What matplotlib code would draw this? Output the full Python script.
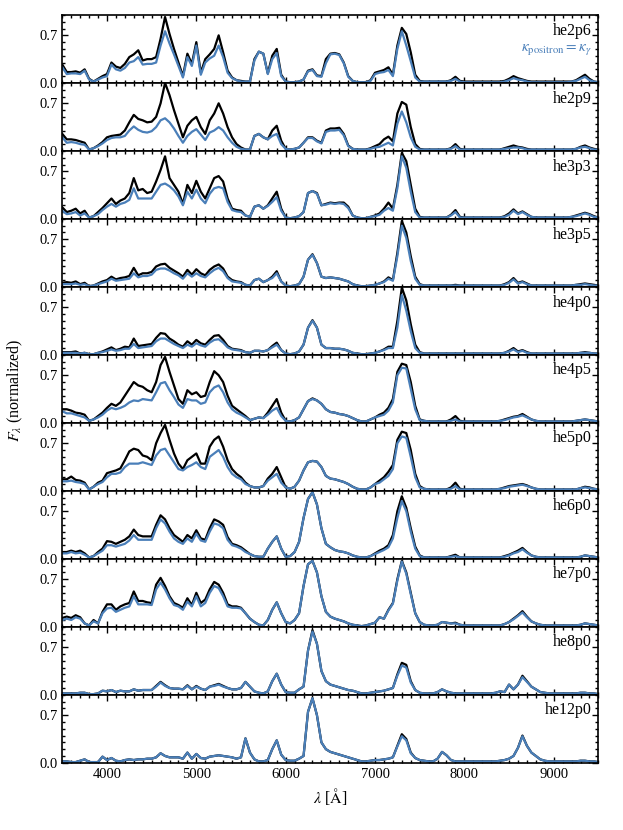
import numpy as np
import matplotlib.pyplot as plt
from matplotlib.ticker import MultipleLocator, FixedLocator

plt.rcParams['font.family'] = ['Liberation Serif', 'DejaVu Serif']
plt.rcParams['mathtext.fontset'] = 'stix'

# wavelength grid [Angstrom], 50 A steps
wave = np.arange(3500, 9501, 50)

models = ['he2p6', 'he2p9', 'he3p3', 'he3p5', 'he4p0', 'he4p5',
          'he5p0', 'he6p0', 'he7p0', 'he8p0', 'he12p0']

# black: default model, blue: kappa_positron = kappa_gamma
he2p6_black = [0.27, 0.16, 0.16, 0.17, 0.15, 0.2, 0.06, 0.02, 0.06, 0.1,
               0.13, 0.3, 0.24, 0.22, 0.28, 0.38, 0.42, 0.48, 0.33, 0.35,
               0.35, 0.38, 0.65, 0.97, 0.72, 0.5, 0.3, 0.1, 0.43, 0.28,
               0.6, 0.15, 0.35, 0.42, 0.5, 0.7, 0.45, 0.18, 0.08, 0.04,
               0.03, 0.02, 0.02, 0.35, 0.46, 0.43, 0.14, 0.4, 0.5, 0.12,
               0.02, 0.01, 0.01, 0.02, 0.05, 0.18, 0.2, 0.11, 0.1, 0.35,
               0.43, 0.44, 0.42, 0.3, 0.1, 0.03, 0.01, 0.01, 0.01, 0.04,
               0.15, 0.17, 0.19, 0.23, 0.12, 0.55, 0.81, 0.72, 0.45, 0.12,
               0.03, 0.02, 0.02, 0.02, 0.02, 0.02, 0.02, 0.04, 0.09, 0.03,
               0.02, 0.02, 0.02, 0.02, 0.02, 0.02, 0.02, 0.02, 0.02, 0.03,
               0.06, 0.1, 0.07, 0.05, 0.03, 0.02, 0.02, 0.02, 0.02, 0.02,
               0.02, 0.02, 0.02, 0.02, 0.02, 0.04, 0.08, 0.12, 0.06, 0.02,
               0.01]
he2p6_blue = [0.23, 0.13, 0.14, 0.14, 0.13, 0.18, 0.05, 0.02, 0.05, 0.08,
              0.1, 0.27, 0.2, 0.18, 0.22, 0.3, 0.32, 0.38, 0.27, 0.28,
              0.28, 0.3, 0.55, 0.76, 0.58, 0.42, 0.25, 0.08, 0.38, 0.25,
              0.55, 0.12, 0.3, 0.36, 0.4, 0.55, 0.38, 0.15, 0.07, 0.04,
              0.02, 0.02, 0.02, 0.33, 0.46, 0.43, 0.13, 0.35, 0.44, 0.1,
              0.02, 0.01, 0.01, 0.02, 0.05, 0.17, 0.19, 0.1, 0.09, 0.29,
              0.42, 0.43, 0.41, 0.29, 0.09, 0.03, 0.01, 0.01, 0.01, 0.03,
              0.13, 0.15, 0.16, 0.19, 0.1, 0.5, 0.76, 0.55, 0.32, 0.08,
              0.02, 0.02, 0.02, 0.02, 0.02, 0.02, 0.02, 0.03, 0.06, 0.02,
              0.01, 0.01, 0.01, 0.01, 0.01, 0.01, 0.01, 0.01, 0.01, 0.02,
              0.04, 0.07, 0.05, 0.04, 0.02, 0.01, 0.01, 0.01, 0.01, 0.01,
              0.01, 0.01, 0.01, 0.01, 0.02, 0.03, 0.06, 0.09, 0.04, 0.02,
              0.01]

he2p9_black = [0.25, 0.17, 0.17, 0.16, 0.14, 0.12, 0.02, 0.04, 0.08, 0.13,
               0.2, 0.22, 0.23, 0.24, 0.3, 0.42, 0.53, 0.47, 0.45, 0.42,
               0.43, 0.5, 0.7, 1.0, 0.82, 0.6, 0.4, 0.2, 0.37, 0.45,
               0.5, 0.35, 0.25, 0.45, 0.55, 0.7, 0.55, 0.35, 0.2, 0.1,
               0.05, 0.02, 0.02, 0.22, 0.25, 0.2, 0.17, 0.3, 0.37, 0.15,
               0.03, 0.02, 0.03, 0.05, 0.12, 0.2, 0.2, 0.15, 0.12, 0.3,
               0.33, 0.33, 0.34, 0.25, 0.08, 0.03, 0.02, 0.02, 0.02, 0.04,
               0.07, 0.1, 0.17, 0.21, 0.14, 0.55, 0.72, 0.68, 0.35, 0.1,
               0.03, 0.02, 0.02, 0.02, 0.02, 0.02, 0.02, 0.04, 0.1, 0.03,
               0.02, 0.02, 0.02, 0.02, 0.02, 0.02, 0.02, 0.02, 0.02, 0.04,
               0.06, 0.08, 0.06, 0.05, 0.03, 0.02, 0.02, 0.02, 0.02, 0.02,
               0.02, 0.02, 0.02, 0.02, 0.02, 0.03, 0.06, 0.08, 0.05, 0.03,
               0.02]
he2p9_blue = [0.2, 0.12, 0.13, 0.12, 0.1, 0.09, 0.02, 0.04, 0.07, 0.11,
              0.16, 0.19, 0.2, 0.2, 0.22, 0.3, 0.36, 0.31, 0.28, 0.27,
              0.29, 0.35, 0.45, 0.48, 0.42, 0.33, 0.22, 0.12, 0.22, 0.28,
              0.32, 0.24, 0.16, 0.27, 0.3, 0.35, 0.3, 0.2, 0.12, 0.06,
              0.03, 0.02, 0.02, 0.22, 0.25, 0.2, 0.17, 0.22, 0.25, 0.1,
              0.03, 0.02, 0.03, 0.05, 0.12, 0.19, 0.19, 0.14, 0.11, 0.28,
              0.3, 0.3, 0.31, 0.23, 0.07, 0.03, 0.02, 0.02, 0.02, 0.03,
              0.05, 0.06, 0.09, 0.12, 0.08, 0.4, 0.58, 0.42, 0.2, 0.06,
              0.02, 0.02, 0.02, 0.02, 0.02, 0.02, 0.02, 0.03, 0.07, 0.02,
              0.02, 0.02, 0.02, 0.02, 0.02, 0.02, 0.02, 0.02, 0.02, 0.03,
              0.04, 0.05, 0.05, 0.04, 0.02, 0.02, 0.02, 0.02, 0.02, 0.02,
              0.02, 0.02, 0.02, 0.02, 0.02, 0.03, 0.05, 0.06, 0.04, 0.02,
              0.02]

he3p3_black = [0.17, 0.1, 0.12, 0.15, 0.08, 0.12, 0.02, 0.04, 0.1, 0.16,
               0.23, 0.3, 0.22, 0.27, 0.3, 0.38, 0.6, 0.42, 0.44, 0.38,
               0.4, 0.55, 0.72, 0.92, 0.6, 0.5, 0.4, 0.22, 0.5, 0.38,
               0.56, 0.4, 0.3, 0.45, 0.6, 0.63, 0.55, 0.3, 0.15, 0.13,
               0.12, 0.05, 0.03, 0.18, 0.2, 0.15, 0.2, 0.3, 0.4, 0.15,
               0.02, 0.01, 0.02, 0.04, 0.1, 0.38, 0.41, 0.38, 0.2, 0.22,
               0.24, 0.23, 0.24, 0.24, 0.18, 0.05, 0.02, 0.01, 0.01, 0.03,
               0.05, 0.08, 0.15, 0.24, 0.15, 0.5, 0.97, 0.85, 0.5, 0.15,
               0.03, 0.02, 0.02, 0.02, 0.02, 0.02, 0.02, 0.06, 0.13, 0.03,
               0.02, 0.02, 0.02, 0.02, 0.02, 0.02, 0.02, 0.02, 0.02, 0.04,
               0.08, 0.14, 0.08, 0.11, 0.07, 0.03, 0.02, 0.02, 0.02, 0.02,
               0.02, 0.02, 0.02, 0.02, 0.03, 0.05, 0.07, 0.09, 0.07, 0.04,
               0.02]
he3p3_blue = [0.12, 0.07, 0.08, 0.1, 0.05, 0.08, 0.02, 0.04, 0.07, 0.13,
              0.18, 0.22, 0.18, 0.22, 0.24, 0.28, 0.45, 0.3, 0.3, 0.3,
              0.3, 0.4, 0.5, 0.52, 0.48, 0.42, 0.33, 0.2, 0.4, 0.3,
              0.43, 0.3, 0.23, 0.37, 0.45, 0.47, 0.45, 0.25, 0.13, 0.11,
              0.1, 0.05, 0.03, 0.18, 0.2, 0.15, 0.19, 0.25, 0.32, 0.12,
              0.02, 0.01, 0.02, 0.04, 0.1, 0.38, 0.41, 0.37, 0.2, 0.21,
              0.23, 0.22, 0.23, 0.22, 0.16, 0.05, 0.02, 0.01, 0.01, 0.03,
              0.04, 0.06, 0.12, 0.16, 0.12, 0.45, 0.92, 0.75, 0.4, 0.1,
              0.02, 0.02, 0.02, 0.02, 0.02, 0.02, 0.02, 0.05, 0.1, 0.02,
              0.02, 0.02, 0.02, 0.02, 0.02, 0.02, 0.02, 0.02, 0.02, 0.03,
              0.06, 0.12, 0.07, 0.1, 0.06, 0.03, 0.02, 0.02, 0.02, 0.02,
              0.02, 0.02, 0.02, 0.02, 0.03, 0.04, 0.06, 0.08, 0.06, 0.03,
              0.02]

he3p5_black = [0.06, 0.07, 0.06, 0.08, 0.04, 0.06, 0.01, 0.02, 0.05, 0.08,
               0.1, 0.15, 0.11, 0.13, 0.14, 0.16, 0.28, 0.17, 0.2, 0.2,
               0.22, 0.3, 0.33, 0.34, 0.28, 0.24, 0.2, 0.15, 0.25, 0.18,
               0.26, 0.2, 0.17, 0.25, 0.3, 0.33, 0.27, 0.15, 0.1, 0.08,
               0.07, 0.03, 0.02, 0.1, 0.12, 0.07, 0.1, 0.15, 0.23, 0.08,
               0.02, 0.01, 0.02, 0.04, 0.15, 0.4, 0.48, 0.35, 0.15, 0.13,
               0.14, 0.13, 0.12, 0.1, 0.08, 0.04, 0.02, 0.01, 0.01, 0.02,
               0.03, 0.05, 0.08, 0.14, 0.1, 0.5, 0.97, 0.8, 0.45, 0.15,
               0.04, 0.02, 0.02, 0.02, 0.02, 0.02, 0.02, 0.02, 0.03, 0.02,
               0.02, 0.02, 0.02, 0.02, 0.02, 0.02, 0.02, 0.02, 0.02, 0.04,
               0.07, 0.13, 0.06, 0.08, 0.05, 0.02, 0.02, 0.02, 0.02, 0.02,
               0.02, 0.02, 0.02, 0.02, 0.02, 0.03, 0.04, 0.05, 0.04, 0.03,
               0.02]
he3p5_blue = [0.04, 0.04, 0.04, 0.05, 0.03, 0.04, 0.01, 0.02, 0.04, 0.06,
              0.08, 0.12, 0.09, 0.1, 0.11, 0.12, 0.2, 0.14, 0.16, 0.16,
              0.18, 0.25, 0.27, 0.27, 0.24, 0.2, 0.17, 0.12, 0.2, 0.15,
              0.2, 0.16, 0.14, 0.2, 0.25, 0.28, 0.23, 0.13, 0.08, 0.07,
              0.06, 0.03, 0.02, 0.1, 0.12, 0.07, 0.1, 0.13, 0.2, 0.08,
              0.02, 0.01, 0.02, 0.04, 0.15, 0.4, 0.47, 0.35, 0.15, 0.13,
              0.14, 0.13, 0.12, 0.1, 0.08, 0.04, 0.02, 0.01, 0.01, 0.02,
              0.03, 0.05, 0.07, 0.12, 0.09, 0.45, 0.9, 0.72, 0.38, 0.12,
              0.03, 0.02, 0.02, 0.02, 0.02, 0.02, 0.02, 0.02, 0.02, 0.02,
              0.02, 0.02, 0.02, 0.02, 0.02, 0.02, 0.02, 0.02, 0.02, 0.03,
              0.06, 0.11, 0.05, 0.07, 0.04, 0.02, 0.02, 0.02, 0.02, 0.02,
              0.02, 0.02, 0.02, 0.02, 0.02, 0.03, 0.03, 0.04, 0.03, 0.02,
              0.02]

he4p0_black = [0.04, 0.04, 0.04, 0.05, 0.02, 0.03, 0.01, 0.01, 0.03, 0.05,
               0.08, 0.11, 0.07, 0.09, 0.12, 0.11, 0.24, 0.13, 0.14, 0.15,
               0.16, 0.25, 0.32, 0.31, 0.24, 0.2, 0.15, 0.12, 0.2, 0.15,
               0.22, 0.17, 0.15, 0.22, 0.28, 0.29, 0.22, 0.13, 0.09, 0.08,
               0.07, 0.04, 0.03, 0.06, 0.06, 0.05, 0.07, 0.13, 0.18, 0.07,
               0.02, 0.01, 0.02, 0.05, 0.15, 0.4, 0.51, 0.4, 0.15, 0.1,
               0.1, 0.09, 0.09, 0.08, 0.06, 0.03, 0.02, 0.01, 0.01, 0.02,
               0.03, 0.05, 0.08, 0.12, 0.12, 0.5, 0.99, 0.8, 0.45, 0.15,
               0.04, 0.02, 0.02, 0.02, 0.02, 0.02, 0.02, 0.02, 0.02, 0.02,
               0.02, 0.02, 0.02, 0.02, 0.02, 0.02, 0.02, 0.02, 0.02, 0.03,
               0.06, 0.1, 0.05, 0.07, 0.04, 0.02, 0.02, 0.02, 0.02, 0.02,
               0.02, 0.02, 0.02, 0.02, 0.02, 0.02, 0.03, 0.04, 0.03, 0.02,
               0.02]
he4p0_blue = [0.03, 0.03, 0.03, 0.03, 0.02, 0.03, 0.01, 0.01, 0.03, 0.04,
              0.06, 0.08, 0.06, 0.07, 0.09, 0.09, 0.16, 0.1, 0.11, 0.12,
              0.13, 0.2, 0.24, 0.24, 0.2, 0.16, 0.13, 0.1, 0.15, 0.12,
              0.17, 0.14, 0.12, 0.18, 0.22, 0.23, 0.18, 0.11, 0.08, 0.07,
              0.06, 0.04, 0.03, 0.06, 0.06, 0.05, 0.07, 0.11, 0.15, 0.07,
              0.02, 0.01, 0.02, 0.05, 0.15, 0.4, 0.5, 0.4, 0.15, 0.1,
              0.1, 0.09, 0.09, 0.08, 0.06, 0.03, 0.02, 0.01, 0.01, 0.02,
              0.03, 0.05, 0.07, 0.1, 0.1, 0.4, 0.88, 0.65, 0.35, 0.1,
              0.03, 0.02, 0.02, 0.02, 0.02, 0.02, 0.02, 0.02, 0.02, 0.02,
              0.02, 0.02, 0.02, 0.02, 0.02, 0.02, 0.02, 0.02, 0.02, 0.03,
              0.05, 0.08, 0.04, 0.06, 0.03, 0.02, 0.02, 0.02, 0.02, 0.02,
              0.02, 0.02, 0.02, 0.02, 0.02, 0.02, 0.03, 0.03, 0.03, 0.02,
              0.02]

he4p5_black = [0.2, 0.2, 0.18, 0.15, 0.14, 0.12, 0.03, 0.05, 0.1, 0.15,
               0.22, 0.28, 0.25, 0.3, 0.4, 0.5, 0.6, 0.55, 0.53, 0.48,
               0.45, 0.6, 0.85, 0.97, 0.75, 0.55, 0.35, 0.28, 0.48, 0.42,
               0.45, 0.38, 0.4, 0.6, 0.76, 0.7, 0.6, 0.4, 0.25, 0.2,
               0.15, 0.1, 0.04, 0.06, 0.08, 0.07, 0.15, 0.25, 0.35, 0.15,
               0.03, 0.02, 0.04, 0.08, 0.2, 0.32, 0.36, 0.33, 0.28, 0.2,
               0.16, 0.15, 0.13, 0.12, 0.1, 0.07, 0.04, 0.02, 0.02, 0.05,
               0.08, 0.12, 0.15, 0.22, 0.35, 0.75, 0.87, 0.85, 0.6, 0.25,
               0.05, 0.03, 0.02, 0.02, 0.02, 0.02, 0.02, 0.05, 0.1, 0.03,
               0.02, 0.02, 0.02, 0.02, 0.02, 0.02, 0.02, 0.02, 0.03, 0.05,
               0.07, 0.09, 0.1, 0.13, 0.09, 0.05, 0.03, 0.02, 0.02, 0.02,
               0.02, 0.02, 0.02, 0.02, 0.02, 0.03, 0.04, 0.05, 0.04, 0.03,
               0.02]
he4p5_blue = [0.17, 0.14, 0.14, 0.12, 0.1, 0.08, 0.03, 0.05, 0.08, 0.12,
              0.18, 0.22, 0.2, 0.22, 0.25, 0.3, 0.33, 0.32, 0.35, 0.34,
              0.33, 0.45, 0.58, 0.6, 0.48, 0.38, 0.27, 0.22, 0.35, 0.33,
              0.33, 0.28, 0.3, 0.45, 0.52, 0.55, 0.45, 0.3, 0.2, 0.15,
              0.12, 0.08, 0.04, 0.06, 0.08, 0.07, 0.12, 0.18, 0.22, 0.1,
              0.03, 0.02, 0.04, 0.08, 0.2, 0.32, 0.35, 0.33, 0.28, 0.2,
              0.16, 0.15, 0.13, 0.12, 0.1, 0.07, 0.04, 0.02, 0.02, 0.05,
              0.08, 0.1, 0.12, 0.18, 0.3, 0.7, 0.81, 0.8, 0.5, 0.2,
              0.04, 0.03, 0.02, 0.02, 0.02, 0.02, 0.02, 0.03, 0.05, 0.02,
              0.02, 0.02, 0.02, 0.02, 0.02, 0.02, 0.02, 0.02, 0.03, 0.04,
              0.06, 0.08, 0.09, 0.11, 0.08, 0.05, 0.03, 0.02, 0.02, 0.02,
              0.02, 0.02, 0.02, 0.02, 0.02, 0.03, 0.04, 0.05, 0.04, 0.03,
              0.02]

he5p0_black = [0.17, 0.17, 0.21, 0.16, 0.15, 0.12, 0.02, 0.06, 0.12, 0.15,
               0.26, 0.28, 0.3, 0.33, 0.45, 0.58, 0.62, 0.6, 0.52, 0.5,
               0.45, 0.7, 0.85, 0.97, 0.75, 0.55, 0.4, 0.32, 0.45, 0.5,
               0.55, 0.4, 0.4, 0.65, 0.75, 0.8, 0.65, 0.45, 0.32, 0.25,
               0.2, 0.12, 0.07, 0.05, 0.05, 0.07, 0.18, 0.25, 0.35, 0.2,
               0.05, 0.03, 0.06, 0.15, 0.3, 0.42, 0.44, 0.43, 0.35, 0.22,
               0.18, 0.17, 0.15, 0.13, 0.1, 0.06, 0.03, 0.02, 0.02, 0.05,
               0.1, 0.15, 0.2, 0.28, 0.38, 0.75, 0.87, 0.85, 0.6, 0.25,
               0.07, 0.03, 0.02, 0.02, 0.02, 0.02, 0.02, 0.05, 0.12, 0.03,
               0.02, 0.02, 0.02, 0.02, 0.02, 0.02, 0.02, 0.02, 0.03, 0.05,
               0.07, 0.08, 0.09, 0.1, 0.08, 0.05, 0.03, 0.02, 0.02, 0.02,
               0.02, 0.02, 0.02, 0.02, 0.02, 0.02, 0.04, 0.06, 0.05, 0.03,
               0.02]
he5p0_blue = [0.14, 0.14, 0.15, 0.13, 0.12, 0.1, 0.02, 0.06, 0.1, 0.13,
              0.2, 0.25, 0.25, 0.27, 0.35, 0.4, 0.4, 0.4, 0.42, 0.4,
              0.38, 0.52, 0.6, 0.62, 0.52, 0.42, 0.32, 0.3, 0.35, 0.38,
              0.42, 0.35, 0.32, 0.5, 0.55, 0.6, 0.5, 0.35, 0.25, 0.2,
              0.17, 0.1, 0.07, 0.05, 0.05, 0.07, 0.15, 0.2, 0.25, 0.12,
              0.05, 0.03, 0.06, 0.15, 0.3, 0.42, 0.44, 0.43, 0.35, 0.22,
              0.18, 0.17, 0.15, 0.13, 0.1, 0.06, 0.03, 0.02, 0.02, 0.05,
              0.1, 0.12, 0.17, 0.22, 0.32, 0.7, 0.8, 0.78, 0.5, 0.2,
              0.05, 0.03, 0.02, 0.02, 0.02, 0.02, 0.02, 0.03, 0.07, 0.02,
              0.02, 0.02, 0.02, 0.02, 0.02, 0.02, 0.02, 0.02, 0.03, 0.04,
              0.06, 0.07, 0.08, 0.09, 0.07, 0.05, 0.03, 0.02, 0.02, 0.02,
              0.02, 0.02, 0.02, 0.02, 0.02, 0.02, 0.04, 0.05, 0.04, 0.03,
              0.02]

he6p0_black = [0.1, 0.1, 0.12, 0.1, 0.12, 0.08, 0.02, 0.04, 0.1, 0.15,
               0.26, 0.25, 0.22, 0.25, 0.28, 0.33, 0.43, 0.35, 0.33, 0.33,
               0.33, 0.5, 0.64, 0.58, 0.45, 0.35, 0.3, 0.25, 0.35, 0.3,
               0.42, 0.3, 0.28, 0.45, 0.58, 0.55, 0.5, 0.32, 0.22, 0.2,
               0.17, 0.12, 0.07, 0.04, 0.03, 0.03, 0.15, 0.25, 0.33, 0.15,
               0.03, 0.04, 0.1, 0.25, 0.6, 0.88, 0.98, 0.8, 0.45, 0.22,
               0.17, 0.13, 0.11, 0.1, 0.08, 0.05, 0.03, 0.02, 0.02, 0.04,
               0.08, 0.12, 0.15, 0.2, 0.35, 0.7, 0.92, 0.75, 0.45, 0.18,
               0.05, 0.02, 0.02, 0.02, 0.02, 0.02, 0.02, 0.04, 0.06, 0.02,
               0.02, 0.02, 0.02, 0.02, 0.02, 0.02, 0.02, 0.02, 0.02, 0.04,
               0.06, 0.09, 0.12, 0.16, 0.1, 0.05, 0.03, 0.02, 0.02, 0.02,
               0.02, 0.02, 0.02, 0.02, 0.02, 0.02, 0.03, 0.05, 0.04, 0.03,
               0.02]
he6p0_blue = [0.08, 0.08, 0.1, 0.08, 0.09, 0.06, 0.02, 0.04, 0.08, 0.12,
              0.2, 0.2, 0.18, 0.2, 0.22, 0.27, 0.35, 0.28, 0.28, 0.28,
              0.28, 0.45, 0.58, 0.52, 0.4, 0.3, 0.25, 0.22, 0.3, 0.25,
              0.37, 0.27, 0.25, 0.4, 0.52, 0.5, 0.45, 0.28, 0.2, 0.18,
              0.15, 0.1, 0.07, 0.04, 0.03, 0.03, 0.15, 0.25, 0.33, 0.15,
              0.03, 0.04, 0.1, 0.25, 0.6, 0.88, 0.98, 0.8, 0.45, 0.22,
              0.17, 0.13, 0.11, 0.1, 0.08, 0.05, 0.03, 0.02, 0.02, 0.04,
              0.07, 0.1, 0.13, 0.17, 0.3, 0.6, 0.85, 0.7, 0.4, 0.15,
              0.04, 0.02, 0.02, 0.02, 0.02, 0.02, 0.02, 0.03, 0.04, 0.02,
              0.02, 0.02, 0.02, 0.02, 0.02, 0.02, 0.02, 0.02, 0.02, 0.03,
              0.05, 0.08, 0.1, 0.14, 0.09, 0.05, 0.03, 0.02, 0.02, 0.02,
              0.02, 0.02, 0.02, 0.02, 0.02, 0.02, 0.03, 0.05, 0.04, 0.03,
              0.02]

he7p0_black = [0.13, 0.15, 0.13, 0.17, 0.14, 0.05, 0.02, 0.1, 0.05, 0.22,
               0.33, 0.33, 0.25, 0.3, 0.33, 0.35, 0.52, 0.38, 0.38, 0.36,
               0.35, 0.62, 0.72, 0.6, 0.45, 0.35, 0.32, 0.28, 0.42, 0.32,
               0.5, 0.35, 0.4, 0.55, 0.66, 0.62, 0.5, 0.33, 0.3, 0.3,
               0.28, 0.2, 0.12, 0.07, 0.03, 0.02, 0.1, 0.25, 0.36, 0.2,
               0.07, 0.05, 0.1, 0.2, 0.6, 0.92, 0.97, 0.8, 0.45, 0.22,
               0.15, 0.12, 0.1, 0.08, 0.05, 0.03, 0.02, 0.01, 0.02, 0.04,
               0.06, 0.14, 0.12, 0.25, 0.35, 0.7, 0.97, 0.8, 0.5, 0.2,
               0.07, 0.03, 0.02, 0.02, 0.03, 0.07, 0.06, 0.05, 0.06, 0.03,
               0.02, 0.02, 0.02, 0.02, 0.02, 0.02, 0.02, 0.02, 0.02, 0.04,
               0.07, 0.12, 0.17, 0.23, 0.15, 0.08, 0.05, 0.03, 0.02, 0.02,
               0.02, 0.02, 0.02, 0.02, 0.02, 0.02, 0.03, 0.05, 0.04, 0.03,
               0.02]
he7p0_blue = [0.1, 0.12, 0.1, 0.14, 0.12, 0.05, 0.02, 0.08, 0.05, 0.2,
              0.27, 0.28, 0.22, 0.25, 0.28, 0.3, 0.45, 0.33, 0.33, 0.33,
              0.32, 0.55, 0.65, 0.55, 0.42, 0.32, 0.3, 0.25, 0.37, 0.3,
              0.45, 0.3, 0.35, 0.5, 0.6, 0.57, 0.45, 0.3, 0.28, 0.28,
              0.27, 0.2, 0.12, 0.07, 0.03, 0.02, 0.1, 0.25, 0.36, 0.2,
              0.07, 0.05, 0.1, 0.2, 0.6, 0.92, 0.97, 0.8, 0.45, 0.22,
              0.15, 0.12, 0.1, 0.08, 0.05, 0.03, 0.02, 0.01, 0.02, 0.04,
              0.06, 0.14, 0.12, 0.24, 0.34, 0.68, 0.96, 0.78, 0.48, 0.2,
              0.07, 0.03, 0.02, 0.02, 0.03, 0.07, 0.06, 0.05, 0.05, 0.03,
              0.02, 0.02, 0.02, 0.02, 0.02, 0.02, 0.02, 0.02, 0.02, 0.04,
              0.07, 0.11, 0.16, 0.21, 0.14, 0.08, 0.05, 0.03, 0.02, 0.02,
              0.02, 0.02, 0.02, 0.02, 0.02, 0.02, 0.03, 0.05, 0.04, 0.03,
              0.02]

he8p0_black = [0.02, 0.02, 0.02, 0.02, 0.03, 0.03, 0.01, 0.01, 0.02, 0.06,
               0.05, 0.07, 0.04, 0.06, 0.05, 0.05, 0.08, 0.06, 0.07, 0.07,
               0.07, 0.13, 0.19, 0.14, 0.1, 0.09, 0.09, 0.08, 0.14, 0.08,
               0.13, 0.09, 0.07, 0.12, 0.14, 0.16, 0.13, 0.1, 0.08, 0.08,
               0.1, 0.19, 0.12, 0.05, 0.03, 0.02, 0.05, 0.2, 0.31, 0.15,
               0.04, 0.03, 0.03, 0.08, 0.12, 0.65, 0.95, 0.75, 0.35, 0.2,
               0.15, 0.13, 0.11, 0.09, 0.07, 0.06, 0.04, 0.02, 0.02, 0.03,
               0.04, 0.05, 0.06, 0.08, 0.1, 0.3, 0.47, 0.44, 0.2, 0.07,
               0.03, 0.02, 0.02, 0.02, 0.04, 0.08, 0.05, 0.03, 0.02, 0.02,
               0.02, 0.02, 0.02, 0.02, 0.02, 0.02, 0.02, 0.03, 0.05, 0.04,
               0.15, 0.08, 0.15, 0.28, 0.2, 0.12, 0.08, 0.04, 0.03, 0.02,
               0.02, 0.02, 0.02, 0.02, 0.02, 0.02, 0.03, 0.03, 0.02, 0.02,
               0.01]
he8p0_blue = [0.02, 0.02, 0.02, 0.02, 0.03, 0.03, 0.01, 0.01, 0.02, 0.06,
              0.05, 0.07, 0.04, 0.06, 0.05, 0.05, 0.08, 0.06, 0.07, 0.07,
              0.07, 0.12, 0.18, 0.13, 0.1, 0.09, 0.09, 0.08, 0.13, 0.08,
              0.12, 0.09, 0.07, 0.12, 0.13, 0.15, 0.12, 0.1, 0.08, 0.08,
              0.1, 0.19, 0.12, 0.05, 0.03, 0.02, 0.05, 0.2, 0.31, 0.15,
              0.04, 0.03, 0.03, 0.08, 0.12, 0.65, 0.93, 0.75, 0.35, 0.2,
              0.15, 0.13, 0.11, 0.09, 0.07, 0.06, 0.04, 0.02, 0.02, 0.03,
              0.04, 0.05, 0.06, 0.08, 0.1, 0.28, 0.43, 0.4, 0.18, 0.07,
              0.03, 0.02, 0.02, 0.02, 0.04, 0.08, 0.05, 0.03, 0.02, 0.02,
              0.02, 0.02, 0.02, 0.02, 0.02, 0.02, 0.02, 0.03, 0.05, 0.04,
              0.15, 0.08, 0.15, 0.26, 0.19, 0.12, 0.08, 0.04, 0.03, 0.02,
              0.02, 0.02, 0.02, 0.02, 0.02, 0.02, 0.03, 0.03, 0.02, 0.02,
              0.01]

he12p0_black = [0.02, 0.02, 0.01, 0.01, 0.03, 0.05, 0.01, 0.01, 0.01, 0.09,
                0.04, 0.07, 0.03, 0.02, 0.04, 0.05, 0.04, 0.05, 0.05, 0.06,
                0.06, 0.08, 0.14, 0.1, 0.08, 0.08, 0.08, 0.06, 0.15, 0.06,
                0.13, 0.07, 0.06, 0.09, 0.1, 0.11, 0.1, 0.09, 0.08, 0.06,
                0.08, 0.36, 0.15, 0.05, 0.02, 0.02, 0.04, 0.2, 0.33, 0.12,
                0.04, 0.03, 0.03, 0.06, 0.1, 0.75, 0.95, 0.7, 0.3, 0.2,
                0.16, 0.14, 0.12, 0.1, 0.08, 0.06, 0.04, 0.02, 0.02, 0.03,
                0.04, 0.04, 0.05, 0.06, 0.08, 0.25, 0.42, 0.35, 0.15, 0.07,
                0.04, 0.03, 0.02, 0.02, 0.06, 0.16, 0.11, 0.04, 0.02, 0.02,
                0.02, 0.02, 0.02, 0.02, 0.02, 0.02, 0.02, 0.02, 0.03, 0.04,
                0.06, 0.1, 0.22, 0.4, 0.25, 0.15, 0.1, 0.05, 0.03, 0.02,
                0.02, 0.02, 0.02, 0.02, 0.02, 0.02, 0.03, 0.03, 0.02, 0.02,
                0.01]
he12p0_blue = [0.02, 0.02, 0.01, 0.01, 0.03, 0.05, 0.01, 0.01, 0.01, 0.09,
               0.04, 0.07, 0.03, 0.02, 0.04, 0.05, 0.04, 0.05, 0.05, 0.06,
               0.06, 0.08, 0.14, 0.1, 0.08, 0.08, 0.08, 0.06, 0.15, 0.06,
               0.13, 0.07, 0.06, 0.09, 0.1, 0.11, 0.1, 0.09, 0.08, 0.06,
               0.08, 0.36, 0.15, 0.05, 0.02, 0.02, 0.04, 0.2, 0.33, 0.12,
               0.04, 0.03, 0.03, 0.06, 0.1, 0.75, 0.95, 0.7, 0.3, 0.2,
               0.16, 0.14, 0.12, 0.1, 0.08, 0.06, 0.04, 0.02, 0.02, 0.03,
               0.04, 0.04, 0.05, 0.06, 0.08, 0.24, 0.39, 0.33, 0.14, 0.07,
               0.04, 0.03, 0.02, 0.02, 0.06, 0.16, 0.11, 0.04, 0.02, 0.02,
               0.02, 0.02, 0.02, 0.02, 0.02, 0.02, 0.02, 0.02, 0.03, 0.04,
               0.06, 0.1, 0.22, 0.39, 0.25, 0.15, 0.1, 0.05, 0.03, 0.02,
               0.02, 0.02, 0.02, 0.02, 0.02, 0.02, 0.03, 0.03, 0.02, 0.02,
               0.01]

black_spectra = [he2p6_black, he2p9_black, he3p3_black, he3p5_black, he4p0_black,
                 he4p5_black, he5p0_black, he6p0_black, he7p0_black, he8p0_black,
                 he12p0_black]
blue_spectra = [he2p6_blue, he2p9_blue, he3p3_blue, he3p5_blue, he4p0_blue,
                he4p5_blue, he5p0_blue, he6p0_blue, he7p0_blue, he8p0_blue,
                he12p0_blue]

blue = '#4a7fb9'

fig, axes = plt.subplots(len(models), 1, sharex=True, figsize=(6.23, 8.30), dpi=100)
fig.subplots_adjust(left=0.1, right=0.9605, top=0.982, bottom=0.081, hspace=0)

for ax, name, fk, fb in zip(axes, models, black_spectra, blue_spectra):
    ax.plot(wave, fk, color='black', lw=1.6)
    ax.plot(wave, fb, color=blue, lw=1.6)
    ax.set_xlim(3500, 9500)
    ax.set_ylim(0, 1.0)
    ax.yaxis.set_major_locator(FixedLocator([0.0, 0.7]))
    ax.yaxis.set_minor_locator(MultipleLocator(0.1))
    ax.xaxis.set_major_locator(MultipleLocator(1000))
    ax.xaxis.set_minor_locator(MultipleLocator(100))
    ax.set_yticklabels(['0.0', '0.7'])
    ax.tick_params(which='both', direction='in', top=True, right=True,
                   labelsize=10.5, width=1.0)
    ax.tick_params(which='major', length=4.5)
    ax.tick_params(which='minor', length=2.5)
    for sp in ax.spines.values():
        sp.set_linewidth(1.2)
    ax.text(0.988, 0.77, name, transform=ax.transAxes, ha='right', va='center',
            fontsize=11.5)

axes[0].text(0.988, 0.49, r'$\kappa_{\rm positron} = \kappa_\gamma$',
             transform=axes[0].transAxes, ha='right', va='center',
             fontsize=11, color=blue)

axes[-1].set_xlabel(r'$\lambda$ [$\mathrm{\AA}$]', fontsize=11.5)
fig.text(0.025, 0.53, r'$F_\lambda$ (normalized)', rotation=90,
         ha='center', va='center', fontsize=11.5)

plt.savefig('out.png', dpi=100)
